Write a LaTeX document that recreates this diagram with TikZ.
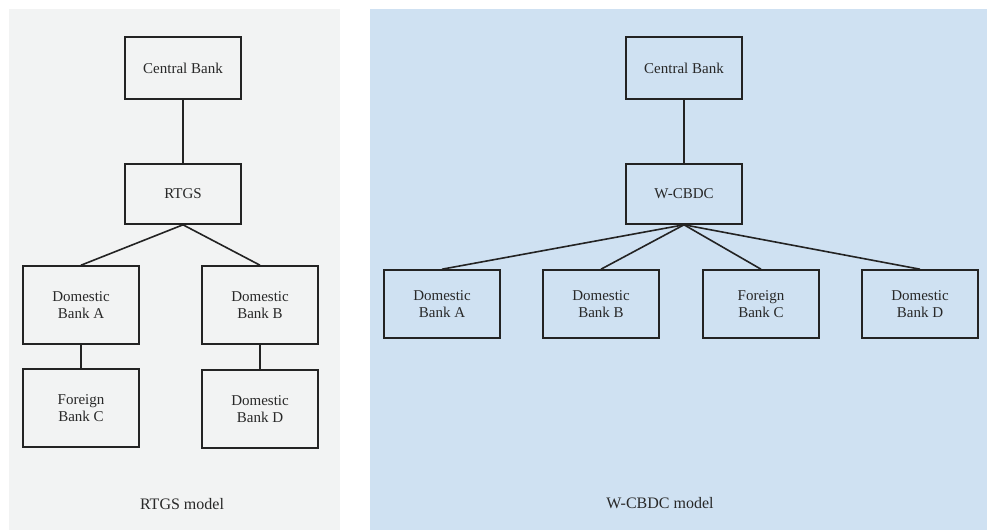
\documentclass[tikz,border=0pt]{standalone}
\usepackage{fontspec}
\setmainfont{Liberation Serif}
\begin{document}
\begin{tikzpicture}[x=1pt,y=-1pt,
  box/.style={draw=linec,line width=1.6pt,minimum width=116pt,align=center,inner sep=0pt,font=\fontsize{15}{17}\selectfont,text=textc},
  link/.style={draw=linec,line width=1.6pt},
  caption/.style={font=\fontsize{16}{18}\selectfont,text=textc}]
\definecolor{linec}{RGB}{35,35,35}
\definecolor{textc}{RGB}{40,40,40}
\definecolor{leftbg}{RGB}{242,243,243}
\definecolor{rightbg}{RGB}{207,225,242}
\useasboundingbox (0,0) rectangle (987,530);
\fill[white] (0,0) rectangle (987,530);
\fill[leftbg] (9,9) rectangle (340,530);
\fill[rightbg] (370,9) rectangle (987,530);
% left
\node[box,minimum height=62pt] (lcb) at (183,68) {Central Bank};
\node[box,minimum height=60pt] (lrt) at (183,194) {RTGS};
\node[box,minimum height=78pt] (lda) at (81,305) {Domestic\\Bank A};
\node[box,minimum height=78pt] (ldb) at (260,305) {Domestic\\Bank B};
\node[box,minimum height=78pt] (lfc) at (81,408) {Foreign\\Bank C};
\node[box,minimum height=78pt] (ldd) at (260,409) {Domestic\\Bank D};
\draw[link] (lcb.south) -- (lrt.north);
\draw[link] (lrt.south) -- (lda.north);
\draw[link] (lrt.south) -- (ldb.north);
\draw[link] (lda.south) -- (lfc.north);
\draw[link] (ldb.south) -- (ldd.north);
\node[caption] (lcap) at (182,504) {RTGS model};
% right
\node[box,minimum height=62pt] (rcb) at (684,68) {Central Bank};
\node[box,minimum height=60pt] (rwc) at (684,194) {W-CBDC};
\node[box,minimum height=68pt] (rda) at (442,304) {Domestic\\Bank A};
\node[box,minimum height=68pt] (rdb) at (601,304) {Domestic\\Bank B};
\node[box,minimum height=68pt] (rfc) at (761,304) {Foreign\\Bank C};
\node[box,minimum height=68pt] (rdd) at (920,304) {Domestic\\Bank D};
\draw[link] (rcb.south) -- (rwc.north);
\draw[link] (rwc.south) -- (rda.north);
\draw[link] (rwc.south) -- (rdb.north);
\draw[link] (rwc.south) -- (rfc.north);
\draw[link] (rwc.south) -- (rdd.north);
\node[caption] (rcap) at (660,503) {W-CBDC model};
\end{tikzpicture}
\end{document}
